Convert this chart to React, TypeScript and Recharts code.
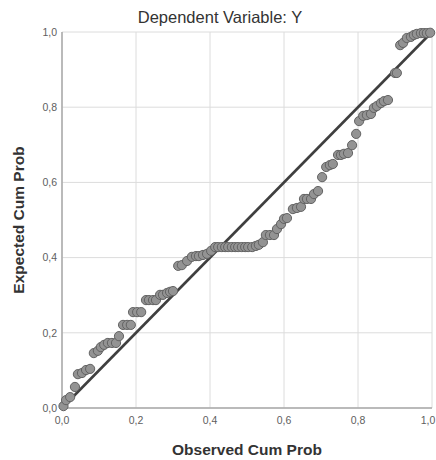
import {
  ScatterChart, Scatter, XAxis, YAxis, CartesianGrid, ReferenceLine, Label,
} from 'recharts'

// P-P plot of regression standardized residual
const observedCumProb = [
  0.004, 0.011, 0.022, 0.035, 0.043, 0.054, 0.065, 0.076, 0.086, 0.097,
  0.105, 0.114, 0.124, 0.135, 0.146, 0.154, 0.165, 0.176, 0.186, 0.192,
  0.203, 0.214, 0.227, 0.235, 0.246, 0.254, 0.265, 0.273, 0.284, 0.292,
  0.300, 0.314, 0.324, 0.338, 0.351, 0.362, 0.370, 0.381, 0.392, 0.403,
  0.414, 0.422, 0.432, 0.441, 0.449, 0.459, 0.468, 0.476, 0.486, 0.495,
  0.503, 0.514, 0.524, 0.532, 0.543, 0.551, 0.562, 0.573, 0.581, 0.592,
  0.600, 0.608, 0.624, 0.635, 0.646, 0.654, 0.662, 0.673, 0.681, 0.692,
  0.703, 0.714, 0.724, 0.732, 0.746, 0.754, 0.762, 0.773, 0.784, 0.795,
  0.803, 0.814, 0.824, 0.835, 0.843, 0.851, 0.862, 0.870, 0.881, 0.900,
  0.905, 0.914, 0.922, 0.932, 0.943, 0.951, 0.959, 0.970, 0.978, 0.986,
  0.995,
]

const expectedCumProb = [
  0.005, 0.021, 0.029, 0.056, 0.090, 0.093, 0.101, 0.104, 0.146, 0.152,
  0.162, 0.168, 0.173, 0.173, 0.173, 0.191, 0.221, 0.221, 0.221, 0.255,
  0.255, 0.255, 0.287, 0.287, 0.287, 0.287, 0.301, 0.301, 0.306, 0.309,
  0.311, 0.378, 0.380, 0.391, 0.402, 0.404, 0.404, 0.407, 0.410, 0.418,
  0.428, 0.428, 0.428, 0.428, 0.428, 0.428, 0.428, 0.428, 0.428, 0.428,
  0.428, 0.428, 0.431, 0.434, 0.441, 0.460, 0.460, 0.460, 0.476, 0.489,
  0.503, 0.505, 0.529, 0.532, 0.535, 0.556, 0.556, 0.556, 0.569, 0.577,
  0.614, 0.641, 0.646, 0.649, 0.673, 0.673, 0.676, 0.678, 0.699, 0.729,
  0.763, 0.777, 0.779, 0.782, 0.798, 0.803, 0.811, 0.816, 0.819, 0.891,
  0.891, 0.965, 0.971, 0.984, 0.987, 0.992, 0.995, 0.997, 0.997, 0.997,
  0.998,
]

const axisTicks = [0, 0.2, 0.4, 0.6, 0.8, 1.0]

const points = observedCumProb.map((x, i) => ({ x, y: expectedCumProb[i] }))

const FONT = '"Liberation Sans", Arial, sans-serif'
const fmt = (v: number) => v.toFixed(1).replace('.', ',')

// titik abu-abu ala SPSS
function Dot(props: any) {
  const { cx, cy } = props
  if (cx == null || cy == null) return null
  return <circle cx={cx} cy={cy} r={4.6} fill="#939393" stroke="#626262" strokeWidth={1} />
}

// tick sumbu X, label terakhir digeser sedikit supaya tidak terpotong
function XTick({ x, y, payload }: any) {
  const shift = payload.value >= 1 ? -4 : 0
  return (
    <text x={x + shift} y={y} dy="0.71em" textAnchor="middle" fill="#5e5e5e" fontSize={10.5} fontFamily={FONT}>
      {fmt(payload.value)}
    </text>
  )
}

export default function App() {
  return (
    <div style={{ position: 'absolute', left: 0, top: 0, width: 436, height: 460, background: '#fff', fontFamily: FONT }}>
      <div style={{
        position: 'absolute', left: 0, top: 8, width: 436, textAlign: 'center',
        fontSize: 16.5, color: '#333', lineHeight: '18px', paddingLeft: 2,
      }}>
        Dependent Variable: Y
      </div>
      <ScatterChart width={436} height={460} margin={{ top: 32, right: 4, bottom: 0, left: 0 }}>
        <CartesianGrid stroke="#dcdcdc" strokeWidth={1} horizontalValues={axisTicks} verticalValues={axisTicks} />
        <XAxis
          type="number"
          dataKey="x"
          domain={[0, 1]}
          ticks={axisTicks}
          height={52}
          tickLine={false}
          tickSize={4}
          tickMargin={5}
          axisLine={{ stroke: '#a8a8a8', strokeWidth: 1.5 }}
          tick={<XTick />}
          interval={0}
        >
          <Label
            value="Observed Cum Prob"
            position="insideBottom"
            offset={5}
            style={{ fill: '#333', fontSize: 15.5, fontWeight: 'bold', fontFamily: FONT }}
          />
        </XAxis>
        <YAxis
          type="number"
          dataKey="y"
          domain={[0, 1]}
          ticks={axisTicks}
          tickFormatter={fmt}
          width={62}
          tickLine={false}
          tickSize={3}
          tickMargin={2}
          axisLine={{ stroke: '#a8a8a8', strokeWidth: 1.5 }}
          tick={{ fill: '#5e5e5e', fontSize: 10.5, fontFamily: FONT }}
          interval={0}
        >
          <Label
            value="Expected Cum Prob"
            angle={-90}
            position="insideLeft"
            offset={18}
            style={{ fill: '#333', fontSize: 15.5, fontWeight: 'bold', fontFamily: FONT, textAnchor: 'middle' }}
          />
        </YAxis>
        <Scatter data={points} shape={<Dot />} isAnimationActive={false} />
        <ReferenceLine
          segment={[{ x: 0, y: 0 }, { x: 1, y: 1 }]}
          stroke="#3f3f3f"
          strokeWidth={2.6}
        />
      </ScatterChart>
    </div>
  )
}
